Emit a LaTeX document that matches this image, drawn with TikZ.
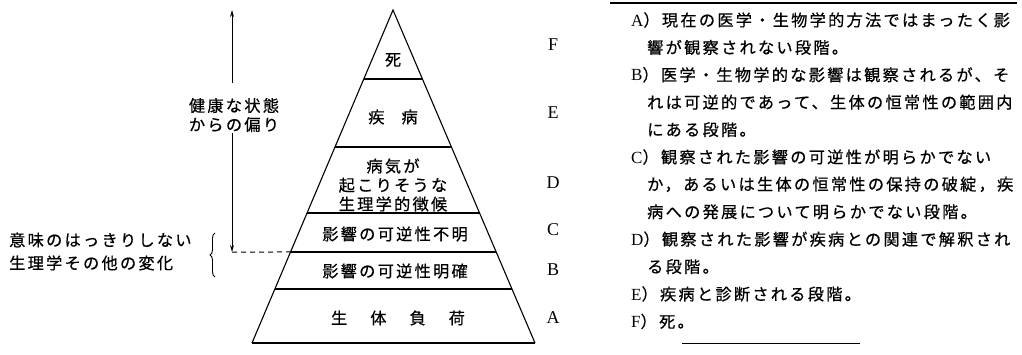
\documentclass[tikz,border=0pt]{standalone}
\usepackage{fontspec}
\newfontfamily\jp[LetterSpace=14,FakeBold=0.6]{Noto Sans CJK JP}
\newfontfamily\lat{Liberation Serif}
\usetikzlibrary{arrows.meta,decorations.pathreplacing,calc}
\newcommand{\LA}[1]{{\lat\fontsize{17}{20}\selectfont #1}}
\begin{document}
\begin{tikzpicture}[x=1pt,y=-1pt,
  jt/.style={font=\jp\fontsize{16.2}{19}\selectfont, inner sep=0pt},
  lt/.style={font=\lat\fontsize{18}{20}\selectfont, inner sep=0pt},
  rl/.style={font=\jp\fontsize{16.2}{19}\selectfont, inner sep=0pt, anchor=west},
  pyr/.style={line width=1.1pt},
  arr/.style={line width=1pt, -{Stealth[length=7pt,width=4pt]}},
]
\useasboundingbox (0,0) rectangle (1022,354);
% pyramid
\coordinate (ap) at (393,10);
\coordinate (bl) at (252,343);
\coordinate (br) at (535,343);
\draw[pyr, line join=miter] (bl) -- (ap) -- (br);
\draw[line width=1.8pt] (bl) -- (br);
\foreach \t/\n in {0.2072/f,0.4114/e,0.6096/d,0.7267/c,0.8378/b}{
  \coordinate (L\n) at ($(ap)!\t!(bl)$);
  \coordinate (R\n) at ($(ap)!\t!(br)$);
  \draw[pyr] (L\n) -- (R\n);
}
% pyramid texts
\node[jt] (tF) at (393,60) {死};
\node[jt] (tE) at (393,117) {疾\hspace{17pt}病};
\node[jt, align=center] (tD) at (393,185) {病気が\\起こりそうな\\生理学的徴候};
\node[jt] (tC) at (395,234) {影響の可逆性不明};
\node[jt] (tB) at (395,271) {影響の可逆性明確};
\node[jt] (tA) at (398,318) {生\hspace{23pt}体\hspace{23pt}負\hspace{23pt}荷};
% stage letters
\node[lt] (lF) at (553,45) {F};
\node[lt] (lE) at (553,113) {E};
\node[lt] (lD) at (553,183) {D};
\node[lt] (lC) at (553,230) {C};
\node[lt] (lB) at (553,270) {B};
\node[lt] (lA) at (553,318) {A};
% left arrow
\coordinate (up) at (232,10);
\coordinate (gt) at (232,83);
\coordinate (gb) at (232,133);
\coordinate (dn) at (232,252);
\node[jt, align=center] (dev) at (234,115) {健康な状態\\からの偏り};
\draw[arr] (gt) -- (up);
\draw[arr] (gb) -- (dn);
\draw[line width=1pt, dash pattern=on 5pt off 4pt] (dn) -- (Lc);
% brace and left text
\draw[line width=0.9pt, decorate, decoration={brace, amplitude=5pt}] (215,277) -- (215,233);
\node[jt, align=left, anchor=west, font=\jp\fontsize{16.2}{23}\selectfont] (chg) at (9,251.5) {意味のはっきりしない\\生理学その他の変化};
% right panel
\draw[line width=1.5pt] (610,3) -- (1017,3);
\draw[line width=0.8pt] (682,343) -- (860,343);
\node[rl] (r1) at (631,20) {\LA{A}）現在の医学・生物学的方法ではまったく影};
\node[rl] (r2) at (647,47.4) {響が観察されない段階。};
\node[rl] (r3) at (631,74.8) {\LA{B}）医学・生物学的な影響は観察されるが、そ};
\node[rl] (r4) at (647,102.2) {れは可逆的であって、生体の恒常性の範囲内};
\node[rl] (r5) at (647,129.6) {にある段階。};
\node[rl] (r6) at (631,157) {\LA{C}）観察された影響の可逆性が明らかでない};
\node[rl] (r7) at (647,184.4) {か，あるいは生体の恒常性の保持の破綻，疾};
\node[rl] (r8) at (647,211.8) {病への発展について明らかでない段階。};
\node[rl] (r9) at (631,239.2) {\LA{D}）観察された影響が疾病との関連で解釈され};
\node[rl] (r10) at (647,266.6) {る段階。};
\node[rl] (r11) at (631,294) {\LA{E}）疾病と診断される段階。};
\node[rl] (r12) at (631,321.4) {\LA{F}）死。};
\end{tikzpicture}
\end{document}
